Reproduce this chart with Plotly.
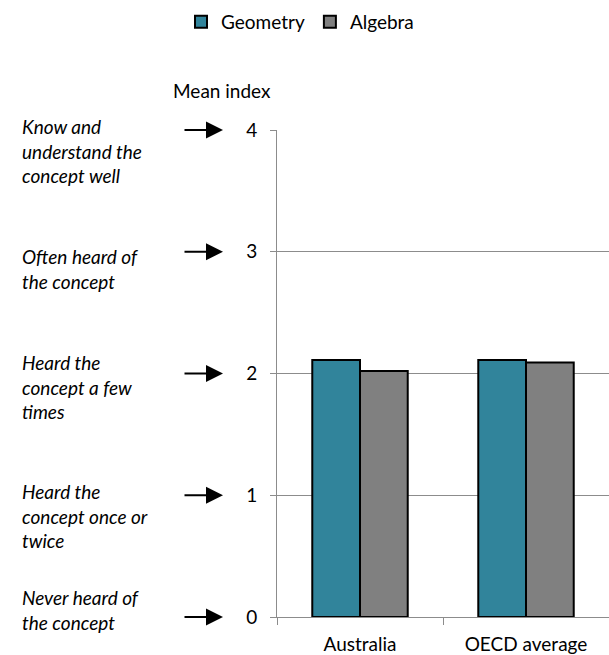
import plotly.graph_objects as go

# Familiarity with mathematical concepts: mean index
categories = ["Australia", "OECD average"]
geometry = [2.11, 2.11]
algebra = [2.02, 2.09]

tick_values = [0, 1, 2, 3, 4]
tick_labels = ["0", "1", "2", "3", "4"]
scale_labels = [
    "Never heard of<br>the concept",
    "Heard the<br>concept once or<br>twice",
    "Heard the<br>concept a few<br>times",
    "Often heard of<br>the concept",
    "Know and<br>understand the<br>concept well",
]
# vertical shift of each italic text block relative to its scale point
label_shift = [0.06, -0.17, -0.11, -0.14, -0.17]

FONT = "Lato, 'Open Sans', sans-serif"
TEAL = "#31849B"
GREY = "#808080"
AXIS_GREY = "#8C8C8C"

fig = go.Figure()
fig.add_trace(go.Bar(
    name="Geometry", x=categories, y=geometry,
    marker=dict(color=TEAL, line=dict(color="black", width=2)),
))
fig.add_trace(go.Bar(
    name="Algebra", x=categories, y=algebra,
    marker=dict(color=GREY, line=dict(color="black", width=2)),
))

W, H = 609, 655
ML, MR, MT, MB = 277, 0, 130, 38
plot_w = W - ML - MR


def px_to_paper_x(px):
    return (px - ML) / plot_w


annotations = []
for v, lab, dy in zip(tick_values, scale_labels, label_shift):
    # arrow pointing at the scale value
    annotations.append(dict(
        x=px_to_paper_x(223), xref="paper", y=v, yref="y",
        text="", showarrow=True, ax=-40, ay=0,
        arrowhead=2, arrowsize=1.7, arrowwidth=2, arrowcolor="black",
    ))
    # italic description of the scale point
    annotations.append(dict(
        x=px_to_paper_x(20), xref="paper", y=v + dy, yref="y",
        text="<i>" + lab + "</i>", showarrow=False,
        xanchor="left", yanchor="middle", align="left",
        font=dict(family=FONT, size=19, color="black"),
    ))

annotations.append(dict(
    x=px_to_paper_x(222), xref="paper", y=1 + (MT - 90) / (H - MT - MB),
    yref="paper", text="Mean index", showarrow=False,
    xanchor="center", yanchor="middle",
    font=dict(family=FONT, size=19, color="black"),
))

fig.update_layout(
    width=W, height=H,
    margin=dict(l=ML, r=MR, t=MT, b=MB),
    paper_bgcolor="white", plot_bgcolor="white",
    barmode="group", bargap=0.425, bargroupgap=0,
    font=dict(family=FONT, size=19, color="black"),
    showlegend=True,
    legend=dict(
        orientation="h", x=px_to_paper_x(300), xanchor="center",
        y=1 + (MT - 22) / (H - MT - MB), yanchor="middle",
        font=dict(family=FONT, size=19, color="black"),
        itemwidth=30, traceorder="normal",
    ),
    annotations=annotations,
)
fig.update_yaxes(
    range=[0, 4], tickvals=tick_values, ticktext=tick_labels,
    showgrid=True, gridcolor=AXIS_GREY, gridwidth=1,
    showline=True, linecolor=AXIS_GREY, linewidth=1,
    ticks="outside", ticklen=6, tickcolor=AXIS_GREY,
    ticklabelstandoff=9, zeroline=False,
)
fig.update_xaxes(
    showline=True, linecolor=AXIS_GREY, linewidth=1,
    ticks="outside", ticklen=7, tickcolor=AXIS_GREY, tickson="boundaries",
    ticklabelstandoff=10, showgrid=False,
)

fig.write_html("out.html")
